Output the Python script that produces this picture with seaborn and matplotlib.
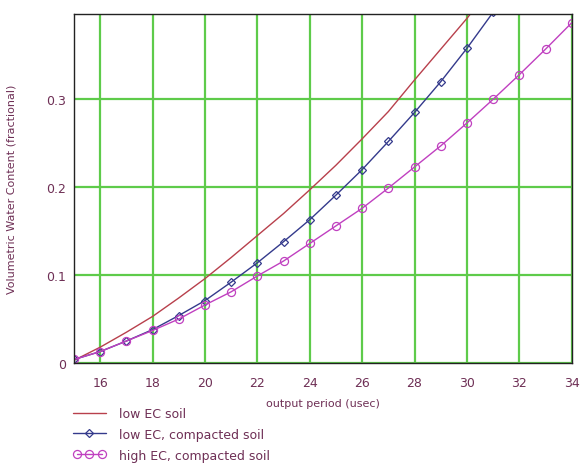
import matplotlib
matplotlib.use("Agg")
import matplotlib.pyplot as plt
import seaborn as sns
from matplotlib.legend_handler import HandlerLine2D

# --- data ---
period_red = [15, 16, 17, 18, 19, 20, 21, 22, 23, 24, 25, 26, 27, 28, 29, 30, 31]
low_ec_soil = [0.003, 0.018, 0.035, 0.053, 0.074, 0.096, 0.120, 0.145, 0.170,
               0.197, 0.225, 0.255, 0.286, 0.322, 0.357, 0.392, 0.430]

period_blue = [15, 16, 17, 18, 19, 20, 21, 22, 23, 24, 25, 26, 27, 28, 29, 30, 31]
low_ec_compacted = [0.004, 0.013, 0.025, 0.038, 0.054, 0.071, 0.092, 0.114, 0.138,
                    0.163, 0.191, 0.220, 0.252, 0.285, 0.320, 0.358, 0.399]

period_pink = [15, 16, 17, 18, 19, 20, 21, 22, 23, 24, 25, 26, 27, 28, 29, 30,
               31, 32, 33, 34]
high_ec_compacted = [0.004, 0.013, 0.025, 0.037, 0.050, 0.066, 0.081, 0.099, 0.116,
                     0.136, 0.156, 0.176, 0.199, 0.223, 0.247, 0.273, 0.300,
                     0.328, 0.357, 0.387]

x_ticks = [16, 18, 20, 22, 24, 26, 28, 30, 32, 34]
y_ticks = [0, 0.1, 0.2, 0.3]
y_tick_labels = ["0", "0.1", "0.2", "0.3"]

red = "#b8404c"
blue = "#343a8c"
pink = "#c040c0"
green = "#5ecb4a"
text_col = "#6e2f55"

sns.set_style("white")
plt.rcParams["font.family"] = ["DejaVu Sans"]

fig = plt.figure(figsize=(5.84, 4.64), dpi=100)
ax = fig.add_axes([0.1267, 0.2155, 0.8523, 0.7522])

sns.lineplot(x=period_red, y=low_ec_soil, ax=ax, color=red, linewidth=1.0,
             label="low EC soil")
sns.lineplot(x=period_blue, y=low_ec_compacted, ax=ax, color=blue, linewidth=1.0,
             marker="D", markersize=3.8, markerfacecolor="none",
             markeredgecolor=blue, markeredgewidth=0.9,
             label="low EC, compacted soil")
sns.lineplot(x=period_pink, y=high_ec_compacted, ax=ax, color=pink, linewidth=1.0,
             marker="o", markersize=5.8, markerfacecolor="none",
             markeredgecolor=pink, markeredgewidth=0.9,
             label="high EC, compacted soil")

ax.set_xlim(15, 34)
ax.set_ylim(0, 0.397)
ax.set_xticks(x_ticks)
ax.set_yticks(y_ticks)
ax.set_yticklabels(y_tick_labels)
ax.grid(True, color=green, linewidth=1.6)
ax.set_axisbelow(True)
ax.tick_params(axis="both", length=0, labelsize=9, colors=text_col)
ax.tick_params(axis="x", pad=9)
ax.tick_params(axis="y", pad=6)
for s in ax.spines.values():
    s.set_color("#222222")
    s.set_linewidth(1.0)

ax.set_xlabel("output period (usec)", fontsize=8, color=text_col, labelpad=7)
ax.set_ylabel("Volumetric Water Content (fractional)", fontsize=8,
              color=text_col, labelpad=21)

handles, labels = ax.get_legend_handles_labels()
leg = ax.legend(handles, labels, loc="upper left",
                bbox_to_anchor=(-0.012, -0.112), frameon=False, fontsize=9,
                handlelength=2.6, handletextpad=1.1, labelspacing=0.62,
                borderaxespad=0,
                handler_map={handles[2]: HandlerLine2D(numpoints=3)})
for t in leg.get_texts():
    t.set_color(text_col)

plt.savefig("out.png", dpi=100)
